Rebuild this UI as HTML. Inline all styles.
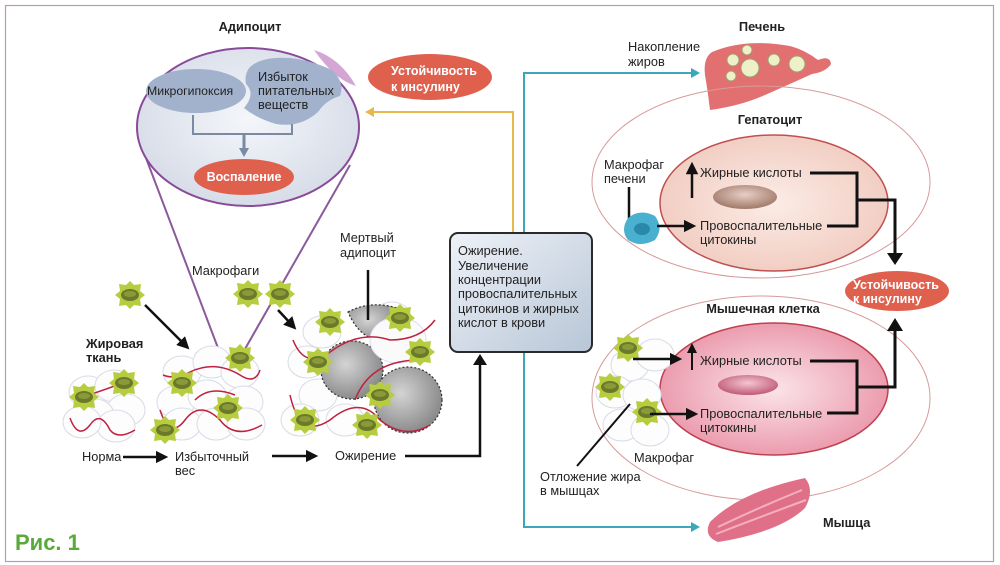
<!DOCTYPE html>
<html><head><meta charset="utf-8"><style>
html,body{margin:0;padding:0;background:#fff}
svg{display:block}
text{font-family:"Liberation Sans","DejaVu Sans",sans-serif;fill:#222;font-size:12.8px}
.b{font-weight:bold}
.w{fill:#fff;font-weight:bold;font-size:12.5px}
</style></head><body>
<svg width="1000" height="565" viewBox="0 0 1000 565" xmlns="http://www.w3.org/2000/svg">
<defs>
<radialGradient id="adip" cx="0.5" cy="0.45" r="0.6"><stop offset="0" stop-color="#f4f6fa"/><stop offset="1" stop-color="#d4dae6"/></radialGradient>
<linearGradient id="box" x1="0" y1="0" x2="1" y2="1"><stop offset="0" stop-color="#eef2f8"/><stop offset="1" stop-color="#b8c6d6"/></linearGradient>
<radialGradient id="hep" cx="0.5" cy="0.5" r="0.6"><stop offset="0" stop-color="#fbece6"/><stop offset="1" stop-color="#f0c8bc"/></radialGradient>
<radialGradient id="mus" cx="0.5" cy="0.5" r="0.6"><stop offset="0" stop-color="#fbe4ea"/><stop offset="1" stop-color="#e88ea2"/></radialGradient>
<radialGradient id="nuc1" cx="0.5" cy="0.4" r="0.6"><stop offset="0" stop-color="#e8cfc6"/><stop offset="1" stop-color="#a07868"/></radialGradient>
<radialGradient id="nuc2" cx="0.5" cy="0.4" r="0.6"><stop offset="0" stop-color="#f4c6d0"/><stop offset="1" stop-color="#c05878"/></radialGradient>
<radialGradient id="gray" cx="0.4" cy="0.4" r="0.6"><stop offset="0" stop-color="#d4d4d4"/><stop offset="1" stop-color="#8c8c8c"/></radialGradient>
<g id="mac">
<polygon points="0,-14 4,-10 11,-11 10,-4 15,0 10,4 11,11 4,10 0,14 -4,10 -11,11 -10,4 -15,0 -10,-4 -11,-11 -4,-10" fill="#b8cc40"/>
<ellipse cx="0" cy="0" rx="9" ry="6" fill="#6a7a2a"/>
<ellipse cx="0" cy="-1" rx="6" ry="3" fill="#8a9a3a"/>
</g>
<g id="cell"><ellipse cx="0" cy="0" rx="19" ry="16" fill="#fdfdfd" stroke="#d8dce6" stroke-width="1"/></g>
<marker id="ah" viewBox="0 0 10 10" refX="5" refY="5" markerWidth="5" markerHeight="5" orient="auto"><path d="M0,0 L10,5 L0,10z" fill="#111"/></marker>
</defs>

<rect x="5.5" y="5.5" width="988" height="556" fill="none" stroke="#b89ac0" stroke-width="1.2"/>

<!-- Adipocyte -->
<text x="250" y="31" class="b" text-anchor="middle">Адипоцит</text>
<line x1="146" y1="158" x2="229" y2="377" stroke="#8a5a9a" stroke-width="2"/>
<line x1="350" y1="165" x2="229" y2="377" stroke="#8a5a9a" stroke-width="2"/>
<ellipse cx="248" cy="127" rx="111" ry="79" fill="url(#adip)" stroke="#8a4a9a" stroke-width="2"/>
<path d="M314,50 Q340,58 356,86 Q335,80 314,50z" fill="#c890c8" opacity="0.8"/>
<ellipse cx="196" cy="91" rx="50" ry="22" fill="#a2b2cc"/>
<path d="M250,67 Q262,56 290,58 Q310,60 332,70 Q345,82 340,96 Q326,100 318,112 Q300,128 276,124 Q256,118 244,108 Q256,94 246,84 Q244,74 250,67z" fill="#a2b2cc"/>
<text x="147" y="95" style="font-size:12.3px">Микрогипоксия</text>
<text x="258" y="81">Избыток</text>
<text x="258" y="95">питательных</text>
<text x="258" y="109">веществ</text>
<path d="M193,115 V134 H292 V124" fill="none" stroke="#7a8aa2" stroke-width="2"/>
<line x1="244" y1="134" x2="244" y2="150" stroke="#7a8aa2" stroke-width="3"/>
<path d="M239,148 L249,148 L244,157z" fill="#7a8aa2"/>
<ellipse cx="244" cy="177" rx="50" ry="18" fill="#e0604e"/>
<text x="244" y="181" class="w" text-anchor="middle">Воспаление</text>

<ellipse cx="430" cy="77" rx="62" ry="23" fill="#e0604e"/>
<text x="391" y="75" class="w">Устойчивость</text>
<text x="391" y="91" class="w">к инсулину</text>

<!-- yellow arrow -->
<path d="M513,232 V112 H372" fill="none" stroke="#e8b84a" stroke-width="2"/>
<path d="M365,112 L374,107 L374,117z" fill="#e8b84a"/>
<!-- teal -->
<path d="M524,232 V73 H692" fill="none" stroke="#3aa8b8" stroke-width="2"/>
<path d="M700,73 L691,68 L691,78z" fill="#3aa8b8"/>
<path d="M524,352 V527 H692" fill="none" stroke="#3aa8b8" stroke-width="2"/>
<path d="M700,527 L691,522 L691,532z" fill="#3aa8b8"/>

<!-- central box -->
<rect x="450" y="233" width="142" height="119" rx="8" fill="url(#box)" stroke="#2a2a2a" stroke-width="2"/>
<text x="458" y="255">Ожирение.</text>
<text x="458" y="270">Увеличение</text>
<text x="458" y="284">концентрации</text>
<text x="458" y="298">провоспалительных</text>
<text x="458" y="313">цитокинов и жирных</text>
<text x="458" y="327">кислот в крови</text>

<!-- tissue clusters -->
<g>
<use href="#cell" x="88" y="392"/><use href="#cell" x="114" y="386"/><use href="#cell" x="126" y="410"/><use href="#cell" x="95" y="415"/><use href="#cell" x="116" y="426"/><use href="#cell" x="82" y="422"/>
<path d="M70,418 Q78,440 90,425 Q100,410 110,430 Q118,440 135,430" fill="none" stroke="#c02040" stroke-width="1.5"/>
<path d="M78,398 Q100,392 130,380" fill="none" stroke="#c02040" stroke-width="1.5"/>
<use href="#mac" x="84" y="397"/><use href="#mac" x="124" y="343" transform="translate(0,40)"/>
</g>
<g>
<use href="#cell" x="182" y="372"/><use href="#cell" x="212" y="362"/><use href="#cell" x="240" y="372"/><use href="#cell" x="176" y="402"/><use href="#cell" x="207" y="396"/><use href="#cell" x="244" y="402"/><use href="#cell" x="182" y="424"/><use href="#cell" x="216" y="424"/><use href="#cell" x="246" y="424"/>
<path d="M163,375 Q175,380 190,372 Q215,360 240,375 Q255,385 260,370" fill="none" stroke="#c02040" stroke-width="1.5"/>
<path d="M160,410 Q170,440 185,420 Q200,400 220,420 Q235,440 262,425" fill="none" stroke="#c02040" stroke-width="1.5"/>
<path d="M195,400 Q210,385 235,395" fill="none" stroke="#c02040" stroke-width="1.5"/>
<use href="#mac" x="182" y="383"/><use href="#mac" x="228" y="408"/><use href="#mac" x="240" y="358"/><use href="#mac" x="165" y="430"/>
</g>
<g>
<use href="#cell" x="322" y="332"/><use href="#cell" x="307" y="362"/><use href="#cell" x="318" y="395"/><use href="#cell" x="345" y="420"/><use href="#cell" x="300" y="420"/><use href="#cell" x="392" y="318"/>
<path d="M348,312 Q370,300 397,308 Q404,335 385,342 Q360,340 348,312z" fill="url(#gray)" stroke="#333" stroke-width="1.2" stroke-dasharray="2,2"/>
<ellipse cx="352" cy="370" rx="31" ry="29" fill="url(#gray)" stroke="#333" stroke-width="1.2" stroke-dasharray="2,2"/>
<ellipse cx="408" cy="400" rx="34" ry="33" fill="url(#gray)" stroke="#333" stroke-width="1.2" stroke-dasharray="2,2"/>
<ellipse cx="398" cy="340" rx="28" ry="23" fill="#fafafa" stroke="#dde" stroke-width="1"/>
<path d="M293,340 Q305,370 330,352 Q360,330 390,340 Q420,340 435,320" fill="none" stroke="#c02040" stroke-width="1.5"/>
<path d="M290,395 Q300,440 330,420 Q360,395 380,420 Q405,440 430,425" fill="none" stroke="#c02040" stroke-width="1.5"/>
<path d="M355,400 Q370,360 420,360" fill="none" stroke="#c02040" stroke-width="1.5"/>
<use href="#mac" x="330" y="322"/><use href="#mac" x="400" y="318"/><use href="#mac" x="318" y="362"/><use href="#mac" x="420" y="352"/><use href="#mac" x="380" y="395"/><use href="#mac" x="305" y="420"/><use href="#mac" x="367" y="425"/>
</g>
<line x1="368" y1="270" x2="368" y2="320" stroke="#111" stroke-width="2.5"/>
<text x="340" y="242">Мертвый</text>
<text x="340" y="257">адипоцит</text>
<text x="192" y="275">Макрофаги</text>
<use href="#mac" x="130" y="295"/><use href="#mac" x="248" y="294"/><use href="#mac" x="280" y="294"/>
<line x1="145" y1="305" x2="185" y2="345" stroke="#111" stroke-width="2.5" marker-end="url(#ah)"/>
<line x1="278" y1="310" x2="292" y2="325" stroke="#111" stroke-width="2.5" marker-end="url(#ah)"/>
<text x="86" y="348" class="b">Жировая</text>
<text x="86" y="362" class="b">ткань</text>

<text x="82" y="461">Норма</text>
<line x1="123" y1="457" x2="162" y2="457" stroke="#111" stroke-width="2.5" marker-end="url(#ah)"/>
<text x="175" y="461">Избыточный</text>
<text x="175" y="475">вес</text>
<line x1="272" y1="456" x2="312" y2="456" stroke="#111" stroke-width="2.5" marker-end="url(#ah)"/>
<text x="335" y="460">Ожирение</text>
<path d="M405,456 H480 V363" fill="none" stroke="#111" stroke-width="2.5"/>
<path d="M480,354 L473,365 L487,365z" fill="#111"/>

<text x="15" y="550" class="b" style="fill:#5aaa3a;font-size:22px">Рис. 1</text>

<!-- liver -->
<text x="762" y="31" class="b" text-anchor="middle">Печень</text>
<text x="628" y="51">Накопление</text>
<text x="628" y="66">жиров</text>
<path d="M712,52 Q745,38 790,46 Q805,50 818,60 Q830,55 831,64 Q826,72 812,74 Q790,84 765,95 Q740,106 710,110 Q708,92 705,75 Q703,58 712,52z" fill="#e27070"/>
<g fill="#eef0c8" stroke="#a0a070" stroke-width="1"><circle cx="733" cy="60" r="6"/><circle cx="747" cy="50" r="5"/><circle cx="750" cy="68" r="9"/><circle cx="774" cy="60" r="6"/><circle cx="797" cy="64" r="8"/><circle cx="731" cy="76" r="5"/></g>

<!-- hepatocyte -->
<ellipse cx="761" cy="182" rx="169" ry="96" fill="none" stroke="#d89a9a" stroke-width="1"/>
<text x="770" y="124" class="b" text-anchor="middle">Гепатоцит</text>
<ellipse cx="774" cy="203" rx="114" ry="68" fill="url(#hep)" stroke="#c05050" stroke-width="1.5"/>
<ellipse cx="745" cy="197" rx="32" ry="12" fill="url(#nuc1)"/>
<text x="604" y="169">Макрофаг</text>
<text x="604" y="183">печени</text>
<line x1="629" y1="187" x2="629" y2="225" stroke="#111" stroke-width="2.5"/>
<path d="M628,218 Q640,208 655,216 Q664,228 655,240 Q640,248 628,240 Q620,230 628,218z" fill="#4ab0d0"/>
<ellipse cx="642" cy="229" rx="8" ry="6" fill="#2a88aa"/>
<line x1="657" y1="226" x2="690" y2="226" stroke="#111" stroke-width="2.5" marker-end="url(#ah)"/>
<line x1="692" y1="198" x2="692" y2="168" stroke="#111" stroke-width="2.5" marker-end="url(#ah)"/>
<text x="700" y="177">Жирные кислоты</text>
<text x="700" y="230">Провоспалительные</text>
<text x="700" y="244">цитокины</text>
<path d="M810,173 H857 V226 H827 M857,200 H895 V255" fill="none" stroke="#111" stroke-width="3"/>
<path d="M895,265 L887,253 L903,253z" fill="#111"/>

<ellipse cx="897" cy="291" rx="52" ry="20" fill="#e0604e"/>
<text x="853" y="289" class="w">Устойчивость</text>
<text x="853" y="303" class="w">к инсулину</text>

<!-- muscle cell -->
<ellipse cx="761" cy="398" rx="169" ry="102" fill="none" stroke="#d89a9a" stroke-width="1"/>
<text x="763" y="313" class="b" text-anchor="middle">Мышечная клетка</text>
<ellipse cx="774" cy="389" rx="114" ry="66" fill="url(#mus)" stroke="#c04050" stroke-width="1.5"/>
<ellipse cx="748" cy="385" rx="30" ry="10" fill="url(#nuc2)"/>
<g>
<use href="#cell" x="630" y="365"/><use href="#cell" x="615" y="392"/><use href="#cell" x="642" y="395"/><use href="#cell" x="622" y="425"/><use href="#cell" x="650" y="430"/><use href="#cell" x="655" y="355"/>
<use href="#mac" x="628" y="348"/><use href="#mac" x="610" y="387"/><use href="#mac" x="647" y="412"/>
</g>
<line x1="633" y1="359" x2="676" y2="359" stroke="#111" stroke-width="2.5" marker-end="url(#ah)"/>
<line x1="650" y1="414" x2="692" y2="414" stroke="#111" stroke-width="2.5" marker-end="url(#ah)"/>
<line x1="692" y1="370" x2="692" y2="348" stroke="#111" stroke-width="2" marker-end="url(#ah)"/>
<text x="700" y="365">Жирные кислоты</text>
<text x="700" y="418">Провоспалительные</text>
<text x="700" y="432">цитокины</text>
<path d="M810,361 H857 V413 H827 M857,387 H895 V330" fill="none" stroke="#111" stroke-width="3"/>
<path d="M895,318 L887,331 L903,331z" fill="#111"/>
<line x1="577" y1="466" x2="630" y2="404" stroke="#111" stroke-width="2"/>
<text x="634" y="462">Макрофаг</text>
<text x="540" y="481">Отложение жира</text>
<text x="540" y="495">в мышцах</text>
<path d="M710,522 Q740,492 805,478 Q815,490 805,508 Q780,532 718,542 Q703,536 710,522z" fill="#e07088"/>
<path d="M718,527 Q760,507 802,490 M716,534 Q760,517 806,500" stroke="#f4b0c0" stroke-width="2" fill="none"/>
<text x="823" y="527" class="b">Мышца</text>
</svg>
</body></html>
